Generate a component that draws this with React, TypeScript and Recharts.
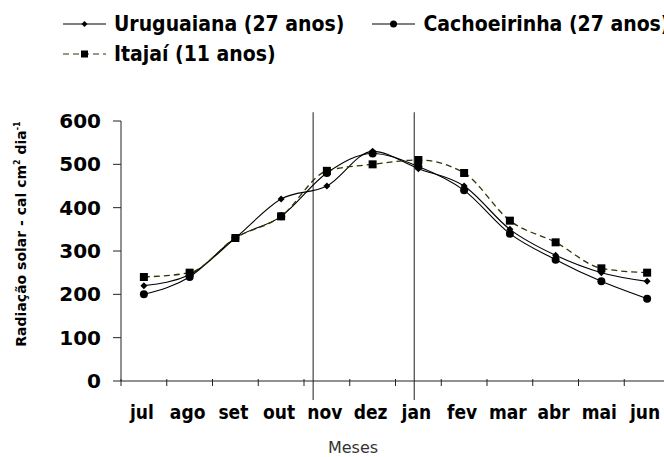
import { LineChart, Line, XAxis, YAxis, ReferenceLine, Legend, Label } from 'recharts';

// meses e séries
const months = ['jul', 'ago', 'set', 'out', 'nov', 'dez', 'jan', 'fev', 'mar', 'abr', 'mai', 'jun'];
const uruguaiana = [220, 245, 330, 420, 450, 530, 490, 450, 350, 290, 250, 230];
const cachoeirinha = [200, 240, 330, 380, 480, 525, 495, 440, 340, 280, 230, 190];
const itajai = [240, 250, 330, 380, 485, 500, 510, 480, 370, 320, 260, 250];
const yTicks = [0, 100, 200, 300, 400, 500, 600];
const boundaries = [0, 1, 2, 3, 4, 5, 6, 7, 8, 9, 10, 11, 12];
const markLines = [4.2, 6.41];

const data = months.map((m, i) => ({
  pos: i + 0.5,
  month: m,
  uruguaiana: uruguaiana[i],
  cachoeirinha: cachoeirinha[i],
  itajai: itajai[i],
}));

const W = 664;
const H = 457;
const LEFT = 121;
const RIGHT_MARGIN = -6;
const BAND = (W - LEFT - RIGHT_MARGIN) / 12;

const Diamond = (props: any) => {
  const { cx, cy, index } = props;
  return <polygon key={'d' + index} points={`${cx},${cy - 3.5} ${cx + 3.5},${cy} ${cx},${cy + 3.5} ${cx - 3.5},${cy}`} fill="#000" />;
};
const Circle = (props: any) => {
  const { cx, cy, index } = props;
  return <circle key={'c' + index} cx={cx} cy={cy} r={4} fill="#000" />;
};
const Square = (props: any) => {
  const { cx, cy, index } = props;
  return <rect key={'s' + index} x={cx - 4} y={cy - 4} width={8} height={8} fill="#000" />;
};

const MonthTick = ({ x, y, payload }: any) => {
  const i = payload.value;
  return (
    <g>
      <line x1={x} x2={x} y1={y - 10} y2={y - 3} stroke="#222" strokeWidth={1} />
      {i < 12 && (
        <text x={x + BAND / 2 - 2} y={y + 30} textAnchor="middle" fontFamily="DejaVu Sans Condensed, DejaVu Sans, sans-serif" fontWeight="bold" fontSize={19} fill="#000">
          {months[i]}
        </text>
      )}
    </g>
  );
};

const LegendIcon = ({ kind }: { kind: string }) => (
  <svg width={43} height={12} style={{ marginRight: 8 }}>
    <line x1={0} x2={43} y1={6} y2={6} stroke={kind === 's' ? '#333300' : '#000'} strokeWidth={1.2} strokeDasharray={kind === 's' ? '6 4' : undefined} />
    {kind === 'd' && <polygon points="21.5,3 24.5,6 21.5,9 18.5,6" fill="#000" />}
    {kind === 'c' && <circle cx={21.5} cy={6} r={3.5} fill="#000" />}
    {kind === 's' && <rect x={18} y={2.5} width={7} height={7} fill="#000" />}
  </svg>
);

const legendText = {
  fontFamily: 'DejaVu Sans Condensed, DejaVu Sans, sans-serif',
  fontWeight: 'bold' as const,
  fontSize: 21,
  color: '#000',
  whiteSpace: 'nowrap' as const,
  lineHeight: '24px',
};

const CustomLegend = () => (
  <div style={{ position: 'relative', width: W, height: 70 }}>
    <div style={{ position: 'absolute', left: 63, top: 12, display: 'flex', alignItems: 'center' }}>
      <LegendIcon kind="d" />
      <span style={legendText}>Uruguaiana (27 anos)</span>
      <span style={{ width: 28 }} />
      <LegendIcon kind="c" />
      <span style={legendText}>Cachoeirinha (27 anos)</span>
    </div>
    <div style={{ position: 'absolute', left: 63, top: 42, display: 'flex', alignItems: 'center' }}>
      <LegendIcon kind="s" />
      <span style={legendText}>Itajaí (11 anos)</span>
    </div>
  </div>
);

export default function App() {
  return (
    <div style={{ position: 'absolute', left: 0, top: 0, width: W, height: H, background: '#fff', overflow: 'hidden' }}>
      <LineChart width={W} height={H} data={data} margin={{ top: 121, right: RIGHT_MARGIN, left: 0, bottom: 0 }}>
        <XAxis
          dataKey="pos"
          type="number"
          domain={[0, 12]}
          ticks={boundaries}
          interval={0}
          height={76}
          axisLine={{ stroke: '#222' }}
          tickLine={false}
          tick={<MonthTick />}
        >
          <Label
            content={() => (
              <text x={353} y={453} textAnchor="middle" fontFamily="DejaVu Sans, sans-serif" fontSize={16} fill="#333">
                Meses
              </text>
            )}
          />
        </XAxis>
        <YAxis
          domain={[0, 600]}
          ticks={yTicks}
          interval={0}
          width={LEFT}
          tickSize={8}
          tickMargin={12}
          axisLine={{ stroke: '#222' }}
          tickLine={{ stroke: '#222' }}
          tick={{ fill: '#000', fontFamily: 'DejaVu Sans, sans-serif', fontWeight: 'bold', fontSize: 20 }}
        >
          <Label
            content={() => (
              <text
                x={26}
                y={234}
                transform="rotate(-90 26 234)"
                textAnchor="middle"
                fontFamily="DejaVu Sans, sans-serif"
                fontWeight="bold"
                fontSize={14}
                fill="#000"
              >
                Radiação solar - cal cm<tspan dy={-6} fontSize={8}>2</tspan>
                <tspan dy={6}> dia</tspan>
                <tspan dy={-6} fontSize={8}>-1</tspan>
              </text>
            )}
          />
        </YAxis>
        {markLines.map((v) => (
          <ReferenceLine
            key={v}
            segment={[{ x: v, y: -44 }, { x: v, y: 620 }]}
            ifOverflow="visible"
            stroke="#444"
            strokeWidth={1.2}
          />
        ))}
        <Legend
          layout="horizontal"
          verticalAlign="middle"
          wrapperStyle={{ top: 0, left: 0, width: W }}
          content={<CustomLegend />}
        />
        <Line
          type="monotone"
          dataKey="uruguaiana"
          name="Uruguaiana (27 anos)"
          stroke="#000"
          strokeWidth={1.1}
          dot={Diamond}
          isAnimationActive={false}
        />
        <Line
          type="monotone"
          dataKey="cachoeirinha"
          name="Cachoeirinha (27 anos)"
          stroke="#000"
          strokeWidth={1.1}
          dot={Circle}
          isAnimationActive={false}
        />
        <Line
          type="monotone"
          dataKey="itajai"
          name="Itajaí (11 anos)"
          stroke="#333300"
          strokeWidth={1.3}
          strokeDasharray="6 4"
          dot={Square}
          isAnimationActive={false}
        />
      </LineChart>
    </div>
  );
}
